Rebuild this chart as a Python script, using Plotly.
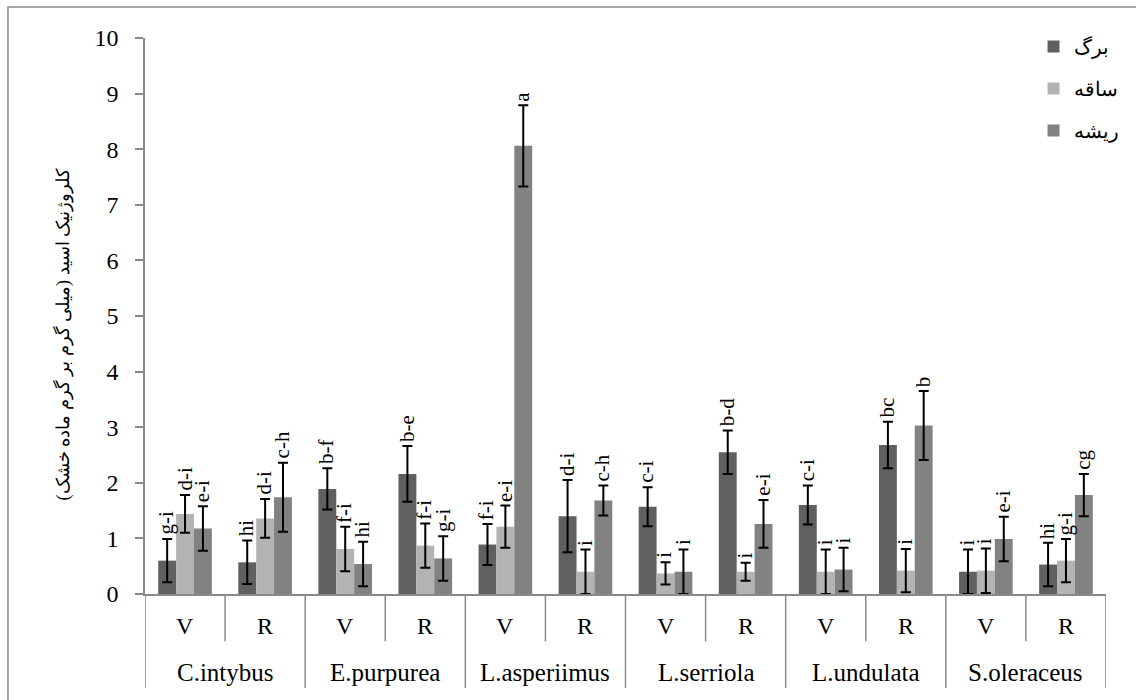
import plotly.graph_objects as go

species = ["C.intybus", "E.purpurea", "L.asperiimus", "L.serriola", "L.undulata", "S.oleraceus"]
stages = ["V", "R"]
categories = [f"{s} {st}" for s in species for st in stages]

series_names = ["برگ", "ساقه", "ریشه"]
leaf = [0.60, 0.57, 1.89, 2.16, 0.89, 1.40, 1.57, 2.55, 1.60, 2.68, 0.40, 0.53]
leaf_err = [0.39, 0.39, 0.37, 0.50, 0.37, 0.65, 0.35, 0.39, 0.35, 0.42, 0.40, 0.39]
stem = [1.44, 1.36, 0.81, 0.87, 1.21, 0.40, 0.37, 0.40, 0.40, 0.42, 0.42, 0.60]
stem_err = [0.34, 0.35, 0.40, 0.40, 0.38, 0.40, 0.20, 0.16, 0.40, 0.39, 0.40, 0.39]
root = [1.18, 1.74, 0.54, 0.64, 8.06, 1.68, 0.40, 1.26, 0.44, 3.03, 0.99, 1.78]
root_err = [0.40, 0.62, 0.40, 0.40, 0.73, 0.27, 0.40, 0.43, 0.39, 0.62, 0.40, 0.38]

leaf_lbl = ["g-i", "hi", "b-f", "b-e", "f-i", "d-i", "c-i", "b-d", "c-i", "bc", "i", "hi"]
stem_lbl = ["d-i", "d-i", "f-i", "f-i", "e-i", "i", "i", "i", "i", "i", "i", "g-i"]
root_lbl = ["e-i", "c-h", "hi", "g-i", "a", "c-h", "i", "e-i", "i", "b", "e-i", "cg"]

colors = ["#606060", "#b3b3b3", "#828282"]
serif = "Liberation Serif, DejaVu Serif, serif"
axis_col = "#8a8a8a"

fig = go.Figure()
vals = [leaf, stem, root]
errs = [leaf_err, stem_err, root_err]
lbls = [leaf_lbl, stem_lbl, root_lbl]
for i in range(3):
    fig.add_trace(go.Bar(
        x=categories, y=vals[i], name=series_names[i],
        marker=dict(color=colors[i], line=dict(width=0)),
        error_y=dict(type="data", array=errs[i], color="black", thickness=2, width=5),
        legendgroup=f"g{i}",
    ))

annotations = []
offsets = [-18, 0, 18]
for i in range(3):
    for j, c in enumerate(categories):
        annotations.append(dict(
            x=c, y=vals[i][j] + errs[i][j], xref="x", yref="y",
            text=lbls[i][j], textangle=-90, showarrow=False,
            xanchor="center", yanchor="bottom", xshift=offsets[i] - 1, yshift=2,
            font=dict(family=serif, size=21, color="black"),
        ))

for j, c in enumerate(categories):
    annotations.append(dict(
        x=c, y=-0.058, xref="x", yref="paper", text=stages[j % 2], showarrow=False,
        xanchor="center", yanchor="middle", font=dict(family=serif, size=24, color="black"),
    ))
for k, s in enumerate(species):
    annotations.append(dict(
        x=2 * k + 0.5, y=-0.142, xref="x", yref="paper", text=s, showarrow=False,
        xanchor="center", yanchor="middle", font=dict(family=serif, size=25, color="black"),
    ))

annotations.append(dict(
    x=-0.0857, y=0.468, xref="paper", yref="paper",
    text="\u200fکلروژنیک اسید (میلی گرم بر گرم ماده خشک)\u200f",
    textangle=-90, showarrow=False, xanchor="center", yanchor="middle",
    font=dict(family=serif, size=18, color="black"),
))

shapes = []
for k in range(len(species)):
    shapes.append(dict(type="line", xref="x", yref="paper", x0=2 * k + 0.5, x1=2 * k + 0.5,
                       y0=0, y1=-0.0852, line=dict(color=axis_col, width=1.5)))
for k in range(len(species) + 1):
    shapes.append(dict(type="line", xref="x", yref="paper", x0=2 * k - 0.5, x1=2 * k - 0.5,
                       y0=0, y1=-0.169, line=dict(color=axis_col, width=1.5)))
shapes.append(dict(type="rect", xref="paper", yref="paper", x0=-0.1426, x1=1.05,
                   y0=-0.21, y1=1.0557, line=dict(color=axis_col, width=1.5),
                   fillcolor="rgba(0,0,0,0)"))

fig.update_layout(
    width=1136, height=700,
    margin=dict(l=145, r=23, t=38, b=106),
    paper_bgcolor="white", plot_bgcolor="white",
    barmode="group", bargap=0.33, bargroupgap=0,
    annotations=annotations, shapes=shapes,
    legend=dict(x=0.9246, xanchor="left", y=1.02, yanchor="top",
                traceorder="grouped", tracegroupgap=13,
                font=dict(family=serif, size=20, color="black"),
                bgcolor="rgba(0,0,0,0)"),
    xaxis=dict(type="category", range=[-0.5, 11.5], showticklabels=False, ticks="",
               showline=True, linecolor=axis_col, linewidth=1.5, showgrid=False, zeroline=False),
    yaxis=dict(range=[0, 10], dtick=1, ticks="outside", ticklen=8, tickcolor=axis_col,
               tickwidth=1.5, showline=True, linecolor=axis_col, linewidth=1.5,
               showgrid=False, zeroline=False, ticklabelstandoff=12,
               tickfont=dict(family=serif, size=24, color="black")),
    showlegend=True,
)

fig.write_html("out.html", config={"displayModeBar": False},
               post_script="document.body.style.margin='0';")
